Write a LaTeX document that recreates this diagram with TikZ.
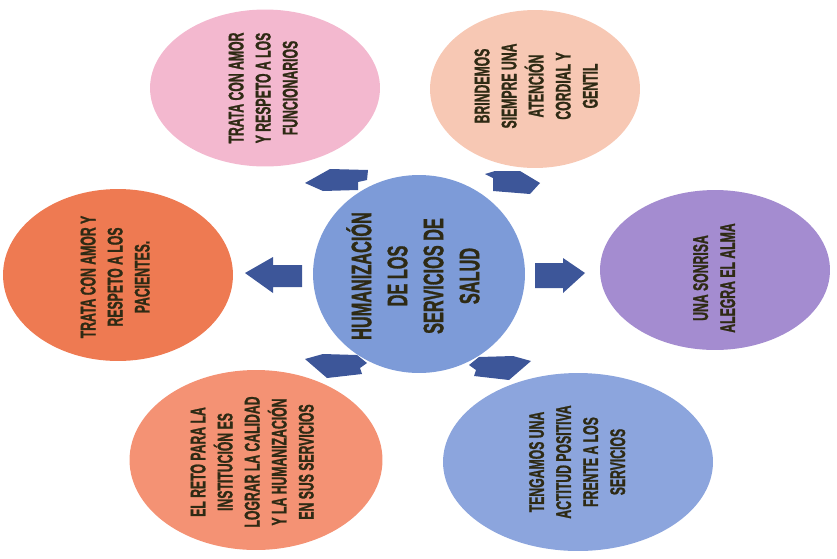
\documentclass[tikz,border=0pt]{standalone}
\usepackage{fontspec}
\setmainfont{Liberation Sans}
\newfontfamily\gruesa{Liberation Sans}[UprightFont={* Bold},UprightFeatures={FakeBold=1.6}]
\usepackage{tikz}
\usetikzlibrary{shapes.geometric}

\definecolor{rosa}{HTML}{F3B8CF}
\definecolor{durazno}{HTML}{F7C8B4}
\definecolor{naranja}{HTML}{EE7A52}
\definecolor{lila}{HTML}{A48CD0}
\definecolor{salmon}{HTML}{F49274}
\definecolor{celeste}{HTML}{8CA5DD}
\definecolor{azul}{HTML}{7D9BD8}
\definecolor{flecha}{HTML}{3D5699}
\definecolor{letra}{HTML}{2E2A14}

\newcommand{\angosto}[1]{\scalebox{0.58}[1]{\begin{tabular}{@{}c@{}}#1\end{tabular}}}

\tikzset{
  globo/.style={ellipse,inner sep=0pt,outer sep=0pt},
  texto/.style={rotate=90,text=letra,inner sep=0pt,font=\gruesa\fontsize{12}{15.4}\selectfont},
  flechita/.style={fill=flecha}
}

\begin{document}
\begin{tikzpicture}[x=0.02cm,y=-0.02cm]
\useasboundingbox (0,0) rectangle (837,558);
% globos
\node[globo,fill=rosa,minimum width=4.6cm,minimum height=3.14cm] (func) at (265,88) {};
\node[globo,fill=durazno,minimum width=4.2cm,minimum height=3.16cm] (aten) at (535,89) {};
\node[globo,fill=naranja,minimum width=4.6cm,minimum height=3.44cm] (paci) at (118,275) {};
\node[globo,fill=lila,minimum width=4.6cm,minimum height=3.2cm] (sonr) at (715,270) {};
\node[globo,fill=salmon,minimum width=5.06cm,minimum height=3.6cm] (reto) at (256,460) {};
\node[globo,fill=celeste,minimum width=5.4cm,minimum height=3.56cm] (acti) at (578,462) {};
\node[globo,fill=azul,minimum width=4.24cm,minimum height=3.96cm] (hum) at (419,274) {};

% textos
\node[texto] (functxt) at (func) {\angosto{TRATA CON AMOR\\Y RESPETO A LOS\\FUNCIONARIOS}};
\node[texto] (atentxt) at (538,86) {\angosto{BRINDEMOS\\SIEMPRE UNA\\ATENCIÓN\\CORDIAL Y\\GENTIL}};
\node[texto] (pacitxt) at (117,277) {\angosto{TRATA CON AMOR Y\\RESPETO A LOS\\PACIENTES.}};
\node[texto] (sonrtxt) at (716,278) {\angosto{UNA SONRISA\\ALEGRA EL ALMA}};
\node[texto] (retotxt) at (254,462) {\angosto{EL RETO PARA LA\\INSTITUCIÓN ES\\LOGRAR LA CALIDAD\\Y LA HUMANIZACIÓN\\EN SUS SERVICIOS}};
\node[texto] (actitxt) at (579,462) {\angosto{TENGAMOS UNA\\ACTITUD POSITIVA\\FRENTE A LOS\\SERVICIOS}};
\node[texto,font=\gruesa\fontsize{16}{20.5}\selectfont] (humtxt) at (418,276) {\angosto{HUMANIZACIÓN\\DE LOS\\SERVICIOS DE\\SALUD}};

% flechas
\fill[flechita] (245,273) -- (273,257) -- (273,265) -- (302,265) -- (302,287) -- (273,287) -- (273,293) -- cycle;
\fill[flechita] (585,273) -- (563,258) -- (563,263) -- (535,263) -- (535,288) -- (563,288) -- (563,293) -- cycle;
\fill[flechita] (330,169) -- (368,170) -- (367,180) -- (358,182) -- (358,190) -- (323,191) -- (305,183) -- cycle;
\fill[flechita] (485,174) -- (495,171) -- (520,171) -- (540,183) -- (530,194) -- (493,191) -- (493,178) -- cycle;
\fill[flechita] (305,359) -- (323,354) -- (357,355) -- (367,363) -- (360,368) -- (362,374) -- (327,378) -- cycle;
\fill[flechita] (531,361) -- (513,356) -- (479,357) -- (469,365) -- (476,370) -- (474,376) -- (509,380) -- cycle;
\end{tikzpicture}
\end{document}
